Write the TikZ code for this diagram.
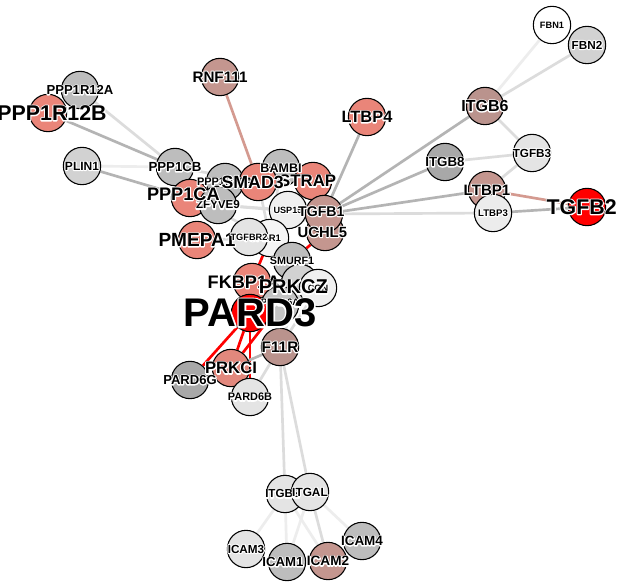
\documentclass[tikz,border=0pt]{standalone}
\usepackage{fontspec}
\setmainfont{Liberation Sans}

% node colours
\definecolor{salmon}{HTML}{EA8579}
\definecolor{rosy}{HTML}{C4968F}
\definecolor{greydark}{HTML}{A8A8A8}
\definecolor{greymid}{HTML}{BDBDBD}
\definecolor{greylight}{HTML}{D2D2D2}
\definecolor{greypale}{HTML}{E4E4E4}
\definecolor{hitred}{HTML}{FF0000}
% edge colours
\definecolor{edgedark}{HTML}{B4B4B4}
\definecolor{edgelight}{HTML}{DCDCDC}
\definecolor{edgefaint}{HTML}{EDEDED}
\definecolor{edgerose}{HTML}{D49A90}

\pgfdeclarelayer{edges}
\pgfsetlayers{edges,main}

\tikzset{
  gene/.style={circle, draw=black, line width=0.8pt, minimum size=28pt, inner sep=0pt},
  lbl/.style={inner sep=0pt, font=\bfseries},
  lnk/.style={line width=2pt, color=#1},
  lnk/.default=edgedark
}
\newcommand{\sz}[1]{\fontsize{#1}{#1}\selectfont}
% white halo round a label: stroked white copy under the black text
\newcommand{\halo}[2][1.6]{\leavevmode\rlap{\color{white}\special{pdf:literal direct 2 Tr #1 w 1 j}#2\special{pdf:literal direct 0 Tr}}#2}

\begin{document}
\begin{tikzpicture}[x=0.75pt, y=-0.75pt]
    \useasboundingbox (0,0) rectangle (624,584);

    % Draw the gene circles, back to front
    \node[gene, fill=white] (fbn1) at (552,25) {};
    \node[gene, fill=greylight] (fbn2) at (587,45) {};
    \node[gene, fill=rosy!85!gray] (itgb6) at (485,106) {};
    \node[gene, fill=greypale] (tgfb3) at (532,153) {};
    \node[gene, fill=greydark] (itgb8) at (445,162) {};
    \node[gene, fill=rosy] (ltbp1) at (487,190) {};
    \node[gene, fill=greypale!70!white] (ltbp3) at (493,213) {};
    \node[gene, fill=hitred] (tgfb2) at (587,207) {};
    \node[gene, fill=rosy] (rnf111) at (220,77) {};
    \node[gene, fill=salmon] (ltbp4) at (367,117) {};

    \node[gene, fill=greymid] (ppp1r12a) at (80,90) {};
    \node[gene, fill=salmon] (ppp1r12b) at (48,113) {};
    \node[gene, fill=greylight] (plin1) at (82,166) {};
    \node[gene, fill=greymid] (ppp1cb) at (175,167) {};
    \node[gene, fill=salmon] (ppp1ca) at (190,198) {};
    \node[gene, fill=greymid] (ppp1r15a) at (225,182) {};
    \node[gene, fill=greymid] (zfyve9) at (218,205) {};
    \node[gene, fill=salmon] (pmepa1) at (197,240) {};

    \node[gene, fill=greymid] (bambi) at (281,168) {};
    \node[gene, fill=salmon] (smad3) at (258,182) {};
    \node[gene, fill=salmon] (strap) at (313,181) {};
    \node[gene, fill=greypale!60!white] (usp15) at (288,210) {};
    \node[gene, fill=rosy] (uchl5) at (325,232) {};
    \node[gene, fill=rosy] (tgfb1) at (324,214) {};
    \node[gene, fill=white!96!black] (tgfbr1) at (270,238) {};
    \node[gene, fill=greypale] (tgfbr2) at (249,237) {};
    \node[gene, fill=greymid] (smurf1) at (292,261) {};
    \node[gene, fill=greylight] (prkcz) at (300,283) {};
    \node[gene, fill=white!94!black] (cgn) at (318,288) {};
    \node[gene, fill=salmon] (fkbp1a) at (252,282) {};
    \node[gene, fill=greymid!90!white] (pard6a) at (280,305) {};
    \node[gene, fill=hitred] (pard3) at (250,313) {};
    \node[gene, fill=rosy!85!gray] (f11r) at (280,347) {};
    \node[gene, fill=greydark] (pard6g) at (190,380) {};
    \node[gene, fill=salmon!80!rosy] (prkci) at (231,368) {};
    \node[gene, fill=greypale] (pard6b) at (250,397) {};

    \node[gene, fill=greypale] (itgb2) at (285,494) {};
    \node[gene, fill=greypale] (itgal) at (310,492) {};
    \node[gene, fill=greypale] (icam3) at (246,549) {};
    \node[gene, fill=greymid] (icam4) at (362,541) {};
    \node[gene, fill=greymid] (icam1) at (287,562) {};
    \node[gene, fill=rosy] (icam2) at (328,561) {};

    % Draw the interactions behind the circles
    \begin{pgfonlayer}{edges}
    \fill[white] (0,0) rectangle (624,584);
    \draw[lnk=edgefaint] (itgb6) -- (fbn1);
    \draw[lnk=edgelight] (itgb6) -- (fbn2);
    \draw[lnk=edgelight] (itgb6) -- (tgfb3);
    \draw[lnk=edgelight] (itgb8) -- (tgfb3);
    \draw[lnk=edgelight] (ltbp1) -- (tgfb3);
    \draw[lnk=edgerose] (ltbp1) -- (tgfb2);
    \draw[lnk] (ltbp3) -- (tgfb2);
    \draw[lnk] (itgb6) -- (tgfb1);
    \draw[lnk] (itgb8) -- (tgfb1);
    \draw[lnk] (ltbp1) -- (tgfb1);
    \draw[lnk=edgelight] (ltbp3) -- (tgfb1);
    \draw[lnk] (ltbp4) -- (tgfb1);
    \draw[lnk=edgerose] (rnf111) -- (smad3);

    \draw[lnk=edgelight] (ppp1r12a) -- (ppp1cb);
    \draw[lnk] (ppp1r12b) -- (ppp1cb);
    \draw[lnk=edgefaint] (plin1) -- (ppp1cb);
    \draw[lnk] (plin1) -- (ppp1ca);
    \draw[lnk=edgelight] (ppp1cb) -- (smad3);
    \draw[lnk=edgelight] (ppp1ca) -- (tgfbr1);
    \draw[lnk=edgelight] (zfyve9) -- (usp15);
    \draw[lnk=edgelight] (zfyve9) -- (tgfb1);
    \draw[lnk=edgelight] (pmepa1) -- (tgfbr1);
    \draw[lnk=edgelight] (smad3) -- (tgfbr1);
    \draw[lnk=edgelight] (bambi) -- (tgfbr1);
    \draw[lnk=edgelight] (strap) -- (tgfbr1);
    \draw[lnk=edgelight] (usp15) -- (tgfbr2);
    \draw[lnk=edgelight] (tgfb1) -- (tgfbr2);
    \draw[lnk=edgelight] (smurf1) -- (pard6a);
    \draw[lnk=edgelight] (cgn) -- (f11r);
    \draw[lnk=edgelight] (prkcz) -- (f11r);
    \draw[lnk=hitred] (fkbp1a) -- (tgfbr1);
    \draw[lnk=hitred] (uchl5) -- (smurf1);
    \draw[lnk=hitred] (pard3) -- (fkbp1a);
    \draw[lnk=hitred] (pard3) -- (pard6g);
    \draw[lnk=hitred] (pard3) -- (prkci);
    \draw[lnk=hitred] (pard3) -- (pard6b);
    \draw[lnk=hitred] (pard6a) -- (prkci);
    \draw[lnk] (prkci) -- (f11r);
    \draw[lnk=edgelight] (pard6b) -- (f11r);

    \draw[lnk=edgelight] (f11r) -- (itgb2);
    \draw[lnk=edgelight] (f11r) -- (itgal);
    \draw[lnk=edgefaint] (itgb2) -- (icam3);
    \draw[lnk=edgefaint] (itgb2) -- (icam1);
    \draw[lnk=edgefaint] (itgb2) -- (icam2);
    \draw[lnk=edgefaint] (itgal) -- (icam1);
    \draw[lnk=edgelight] (itgal) -- (icam2);
    \draw[lnk=edgefaint] (itgal) -- (icam4);
    \end{pgfonlayer}

    % Add labels
    \node[lbl] at (fbn1) {\sz{6.9}\halo{FBN1}};
    \node[lbl] at (fbn2) {\sz{8.8}\halo{FBN2}};
    \node[lbl] at (itgb6) {\sz{12}\halo{ITGB6}};
    \node[lbl] at (tgfb3) {\sz{8.8}\halo{TGFB3}};
    \node[lbl] at (itgb8) {\sz{10}\halo{ITGB8}};
    \node[lbl] at (ltbp1) {\sz{11.3}\halo{LTBP1}};
    \node[lbl] at (ltbp3) {\sz{7.2}\halo{LTBP3}};
    \node[lbl, xshift=-4pt] at (tgfb2) {\sz{16}\halo{TGFB2}};
    \node[lbl] at (rnf111) {\sz{11.4}\halo{RNF111}};
    \node[lbl] at (ltbp4) {\sz{12.3}\halo{LTBP4}};

    \node[lbl] at (ppp1r12a) {\sz{9.8}\halo{PPP1R12A}};
    \node[lbl, xshift=3pt] at (ppp1r12b) {\sz{16}\halo{PPP1R12B}};
    \node[lbl] at (plin1) {\sz{9}\halo{PLIN1}};
    \node[lbl] at (ppp1cb) {\sz{9.9}\halo{PPP1CB}};
    \node[lbl] at (ppp1r15a) {\sz{8.2}\halo{PPP1R15A}};
    \node[lbl] at (zfyve9) {\sz{8.7}\halo{ZFYVE9}};
    \node[lbl, xshift=-5pt, yshift=3pt] at (ppp1ca) {\sz{13.6}\halo{PPP1CA}};
    \node[lbl] at (pmepa1) {\sz{14.3}\halo{PMEPA1}};
    \node[lbl] at (bambi) {\sz{9.4}\halo{BAMBI}};
    \node[lbl] at (usp15) {\sz{6.8}\halo{USP15}};
    \node[lbl, xshift=-4pt] at (strap) {\sz{12.6}\halo{STRAP}};
    \node[lbl, xshift=-4pt] at (smad3) {\sz{13.3}\halo{SMAD3}};
    \node[lbl, xshift=-2pt, yshift=2pt] at (tgfb1) {\sz{10.6}\halo{TGFB1}};
    \node[lbl, xshift=-2pt] at (uchl5) {\sz{11.1}\halo{UCHL5}};
    \node[lbl, xshift=-6pt] at (tgfbr1) {\sz{7.1}\halo{TGFBR1}};
    \node[lbl] at (tgfbr2) {\sz{6.9}\halo{TGFBR2}};
    \node[lbl] at (smurf1) {\sz{8.1}\halo{SMURF1}};
    \node[lbl] at (cgn) {\sz{6.9}\halo{CGN}};
    \node[lbl, xshift=-6pt] at (fkbp1a) {\sz{13.6}\halo{FKBP1A}};
    \node[lbl, xshift=-5pt, yshift=-3pt] at (prkcz) {\sz{15}\halo{PRKCZ}};
    \node[lbl, yshift=2pt] at (pard6a) {\sz{7.1}\halo{PARD6A}};
    \node[lbl] at (pard3) {\sz{30}\halo[2.4]{PARD3}};
    \node[lbl] at (f11r) {\sz{11.5}\halo{F11R}};
    \node[lbl] at (pard6g) {\sz{9.8}\halo{PARD6G}};
    \node[lbl] at (prkci) {\sz{12.5}\halo{PRKCI}};
    \node[lbl] at (pard6b) {\sz{8.2}\halo{PARD6B}};

    \node[lbl, xshift=-2pt] at (itgb2) {\sz{8.7}\halo{ITGB2}};
    \node[lbl] at (itgal) {\sz{8.9}\halo{ITGAL}};
    \node[lbl] at (icam3) {\sz{8.8}\halo{ICAM3}};
    \node[lbl] at (icam4) {\sz{10.1}\halo{ICAM4}};
    \node[lbl, xshift=-3pt] at (icam1) {\sz{9.9}\halo{ICAM1}};
    \node[lbl] at (icam2) {\sz{10.2}\halo{ICAM2}};
\end{tikzpicture}
\end{document}
